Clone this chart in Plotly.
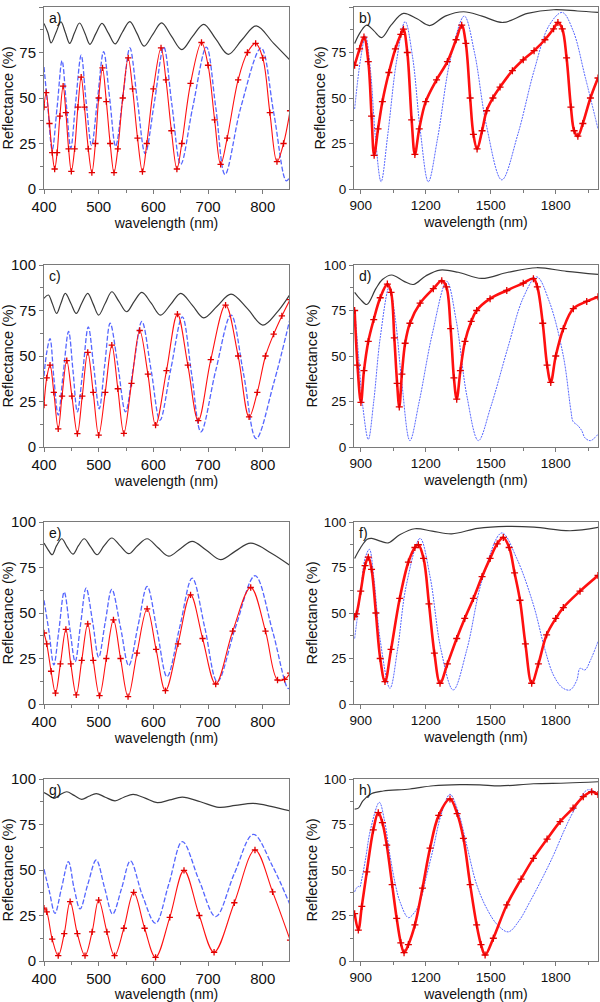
import plotly.graph_objects as go

# ---------------- data (wavelength nm, reflectance %) -------------
# panel a
A_BLACK_WL = [400, 407, 413, 422, 431, 439, 447, 456, 465, 475, 484, 495, 506, 518, 530, 543, 557, 570, 583, 599, 615, 633, 652, 672, 692, 714, 737, 762, 788, 820, 850]
A_BLACK_R = [91, 86, 80.3, 86, 91.8, 86, 80, 86, 91.2, 85.5, 79.5, 85.5, 91, 85.5, 79.7, 86, 92, 85.5, 78.5, 85, 91.3, 84, 76.6, 84, 90.5, 82.5, 74, 82, 89.6, 80, 70.7]
A_RED_WL = [400, 404, 410, 415, 419.5, 424, 429, 435, 440, 445, 450, 456, 462, 468, 474, 481, 487.5, 494, 500, 507, 514, 521, 528, 535, 544, 554, 562, 571, 580, 588, 600, 614, 623, 633, 643, 652, 668, 688, 700, 712, 723, 735, 755, 772, 787, 800, 813, 826, 838, 850]
A_RED_R = [45, 53, 36, 20, 11, 20, 40, 56.5, 42, 22, 9.7, 22, 45, 61.5, 45, 22, 9, 25, 50, 66.5, 48, 25, 9, 22, 50, 72, 55, 28, 9.5, 25, 55, 77.5, 60, 32, 11, 25, 58, 80.5, 68, 38, 13.5, 28, 60, 75, 80, 72, 42, 15, 25, 43]
A_BLUE_WL = [400, 407, 415, 424, 433, 441, 449, 458, 468, 477, 487, 498, 509, 520, 531, 544, 557, 571, 585, 602, 619, 634, 650, 672, 697, 714, 731, 760, 797, 820, 843, 850]
A_BLUE_R = [67, 45, 21.5, 45, 70.5, 46, 22.5, 48, 73.5, 48, 24, 50, 75.5, 50, 23.5, 50, 77.5, 48, 19.5, 48, 78, 46, 13.5, 45, 78, 45, 8, 45, 77.5, 42, 4.5, 7]

# panel b
B_BLACK_WL = [872, 900, 928, 960, 997, 1040, 1097, 1160, 1218, 1290, 1375, 1460, 1557, 1670, 1790, 1900, 1995]
B_BLACK_R = [80, 86.5, 90, 87, 83.2, 90, 96.5, 93.5, 89.8, 95, 97.4, 95, 91.5, 96.5, 98.5, 97.8, 97]
B_RED_WL = [872, 895, 915, 935, 950, 962, 980, 1000, 1030, 1060, 1085, 1097, 1115, 1135, 1150, 1170, 1200, 1250, 1300, 1340, 1366, 1385, 1405, 1420, 1437, 1460, 1481, 1510, 1543, 1600, 1650, 1700, 1750, 1790, 1810, 1830, 1850, 1870, 1885, 1902, 1925, 1960, 1995]
B_RED_R = [68, 77, 83.5, 70, 40, 18.5, 33, 48, 64, 77, 85, 87.8, 75, 38, 19, 33, 48, 60, 70, 82, 90, 80, 50, 30, 22, 32, 43, 50, 56, 65, 71, 76, 82, 88, 91.5, 88, 72, 45, 32, 29, 36, 50, 61]
B_BLUE_WL = [872, 900, 922, 945, 968, 994, 1025, 1065, 1105, 1140, 1175, 1212, 1255, 1315, 1378, 1425, 1480, 1551, 1625, 1700, 1770, 1830, 1880, 1935, 1995]
B_BLUE_R = [44, 72, 84, 65, 28, 4, 30, 70, 92, 72, 32, 4, 28, 72, 95, 75, 35, 5, 30, 65, 90, 97, 87, 62, 33]

# panel c
C_BLACK_WL = [400, 408, 415, 423, 431, 439, 449, 459, 469, 480, 490, 500, 512, 524, 537, 551, 565, 579, 596, 613, 632, 650, 671, 692, 717, 742, 772, 800, 826, 850]
C_BLACK_R = [81.7, 83.5, 79, 73.4, 79, 84.4, 79, 73.4, 79, 84.4, 78.5, 72.5, 79, 85.3, 80, 74.3, 80, 85, 79, 72.5, 78.5, 84.4, 78, 71, 77.5, 84, 76, 67, 74, 84]
C_RED_WL = [400, 405, 411, 418, 426, 433, 441.6, 451, 461, 470, 480, 490, 500, 512, 524, 535, 546, 560, 575, 590, 604, 624, 644, 663, 682, 705, 732, 755, 775, 790, 805, 820, 835, 850]
C_RED_R = [23, 38, 45, 30, 10, 28, 47.5, 28, 7.3, 28, 52, 30, 6.5, 30, 56, 32, 7.5, 35, 64, 40, 12, 42, 73, 45, 14.5, 48, 78, 50, 16.5, 30, 50, 62, 72, 81]
C_BLUE_WL = [400, 405, 411, 418, 426, 435, 445, 453, 461, 471, 481, 491, 501, 511, 521, 535, 549, 564, 579, 596, 612, 632, 653, 670, 687, 714, 742, 765, 788, 820, 850]
C_BLUE_R = [39, 52, 59.5, 38, 17.5, 40, 63.5, 42, 19.3, 42, 66, 44, 21, 45, 68, 45, 19.3, 45, 69, 42, 14.7, 43, 71.5, 40, 8.3, 42, 72.5, 40, 4.6, 35, 70.6]

# panel d
D_BLACK_WL = [872, 900, 928, 970, 1000, 1043, 1100, 1143, 1200, 1266, 1350, 1458, 1580, 1712, 1850, 1995]
D_BLACK_R = [85, 81, 78.3, 87, 92, 94.5, 91, 89.3, 94, 97.2, 96, 92.6, 96, 98.5, 96.5, 94.8]
D_RED_WL = [872, 885, 901, 915, 935, 960, 990, 1023, 1040, 1055, 1068, 1078, 1090, 1105, 1127, 1174, 1235, 1274, 1295, 1315, 1330, 1343, 1360, 1381, 1410, 1435, 1497, 1574, 1650, 1697, 1715, 1740, 1760, 1777, 1800, 1835, 1881, 1943, 1995]
D_RED_R = [75, 45, 24.5, 42, 58, 70, 82, 89.5, 85, 60, 35, 22, 40, 57, 68, 79, 87, 91.3, 88, 65, 38, 26.3, 42, 58, 69, 75, 81.5, 86, 90, 92.5, 88, 68, 45, 35.5, 50, 65, 76, 80, 82.5]
D_BLUE_WL = [872, 890, 910, 935, 960, 990, 1032, 1060, 1090, 1127, 1170, 1230, 1297, 1340, 1390, 1443, 1500, 1580, 1650, 1712, 1770, 1835, 1870, 1880, 1900, 1920, 1935, 1960, 1995]
D_BLUE_R = [76, 50, 22, 4.2, 25, 60, 88, 70, 35, 3.5, 25, 62, 91, 70, 28, 3.5, 22, 55, 82, 93.5, 80, 50, 20, 14, 12, 9, 5, 3.5, 7]

# panel e
E_BLACK_WL = [400, 407, 415, 423, 432.5, 442, 453, 463, 473.5, 485, 497, 510, 524, 539, 555, 571, 588.6, 608, 628, 650, 671, 697, 723, 750, 778, 815, 850]
E_BLACK_R = [88.4, 85, 82, 87, 90.8, 86.5, 82.4, 87, 90.8, 86.5, 82, 87, 91.2, 87, 82.6, 87, 90.8, 86, 81.2, 85.5, 89.4, 84.5, 79.3, 84, 88.4, 83, 76.1]
E_RED_WL = [400, 405, 413, 421, 430, 440, 449, 459, 469, 480, 490, 501.5, 514, 527, 540, 553.7, 570, 588.6, 605, 622, 645, 668, 690, 714, 745, 778, 805, 827, 840, 850]
E_RED_R = [39, 33, 18, 6, 22, 41, 22, 5, 24, 44, 24, 4.6, 25, 46.2, 25, 4, 28, 52.3, 30, 7.3, 33, 60, 36, 11, 40, 64, 40, 13.2, 13.5, 17]
E_BLUE_WL = [400, 409, 418, 427, 437, 447, 457, 467, 477, 489, 500, 512, 524, 540, 555, 572, 588.6, 607, 625, 648, 671, 694, 717, 750, 786, 818, 846, 850]
E_BLUE_R = [57, 40, 21.5, 40, 61.5, 42, 23.3, 44, 63.7, 45, 25.7, 45, 63, 42, 21.1, 43, 64.6, 40, 15, 42, 69.2, 42, 12.3, 42, 70.5, 40, 8.6, 8.6]

# panel f
F_BLACK_WL = [872, 900, 930, 951, 990, 1027, 1080, 1150, 1230, 1320, 1440, 1574, 1700, 1866, 1995]
F_BLACK_R = [80, 86, 90.5, 91, 89.5, 88.5, 93, 96.3, 95, 93.5, 96.5, 97.6, 97.2, 95.2, 97]
F_RED_WL = [872, 880, 900, 920, 935, 950, 970, 990, 1012, 1040, 1080, 1120, 1150, 1166, 1190, 1215, 1240, 1266, 1300, 1343, 1380, 1420, 1460, 1497, 1530, 1558, 1585, 1610, 1635, 1660, 1689, 1720, 1758, 1800, 1835, 1912, 1995]
F_RED_R = [48, 49.5, 62, 76, 80.7, 74, 50, 25, 12.3, 30, 58, 78, 86, 87.5, 80, 55, 28, 11.4, 22, 36, 47, 58, 70, 80, 88, 91.5, 86, 72, 57, 33, 11.4, 22, 38, 47, 53, 62, 70.6]
F_BLUE_WL = [872, 900, 920, 940, 960, 990, 1035, 1070, 1110, 1174, 1220, 1270, 1327, 1390, 1460, 1551, 1620, 1697, 1750, 1789, 1830, 1866, 1897, 1912, 1935, 1960, 1995]
F_BLUE_R = [36, 62, 80, 85, 70, 35, 8.6, 30, 65, 91, 70, 30, 7.7, 30, 68, 94, 80, 54.5, 30, 16, 9, 7.7, 13, 19.6, 18.7, 24, 34.3]

# panel g
G_BLACK_WL = [400, 409, 418, 430, 441.6, 455, 469, 482, 495.5, 512, 530, 546, 563, 585, 607, 630, 653, 686, 720, 750, 782.7, 815, 850]
G_BLACK_R = [92.5, 91, 89.4, 91.5, 93, 91, 88.8, 90.5, 92, 90, 88, 90, 91.6, 89.5, 87, 88.5, 90, 87.5, 84.4, 85.5, 86.6, 85, 82.4]
G_RED_WL = [400, 405, 415, 426, 437, 447.8, 461, 475, 488, 500, 515, 529, 546, 564, 584, 604, 630, 656, 684, 711, 748, 785.8, 818, 850]
G_RED_R = [29, 27, 12, 2.9, 15, 32.6, 15, 2.9, 16, 33.5, 16, 2.9, 18, 37.7, 18, 2, 24, 49.8, 25, 4.8, 32, 61, 38, 11.5]
G_BLUE_WL = [400, 410, 420, 432, 444.7, 455, 466, 480, 495.5, 511, 525.5, 542, 558, 580, 604, 628, 653, 684, 714, 748, 782.7, 818, 850]
G_BLUE_R = [50.4, 38, 26.2, 40, 54.6, 40, 28.6, 42, 55.5, 40, 25.8, 40, 55, 36, 20.7, 42, 65.6, 44, 24.4, 48, 69.6, 52, 30.8]

# panel h
H_BLACK_WL = [872, 889, 910, 951, 1004, 1127, 1235, 1358, 1450, 1543, 1697, 1851, 1995]
H_BLACK_R = [83.5, 84, 88, 92, 93.4, 94.5, 96.3, 96.9, 96.8, 96.2, 97.4, 97.8, 98.5]
H_RED_WL = [872, 889, 905, 928, 958, 981, 1000, 1020, 1045, 1066, 1085, 1100, 1120, 1150, 1185, 1220, 1260, 1312, 1345, 1374, 1405, 1435, 1455, 1474, 1512, 1574, 1640, 1697, 1760, 1820, 1880, 1927, 1966, 1995]
H_RED_R = [26, 17, 30, 49, 72, 81.5, 76, 63.7, 42, 23.4, 10, 4.6, 9, 19.8, 40, 62, 80, 89, 81, 67.4, 42, 19.8, 9, 3.3, 12.5, 30.8, 45, 56.4, 67, 76.6, 84, 90.3, 93, 91.5]
H_BLUE_WL = [872, 880, 889, 895, 905, 925, 943, 986, 1010, 1035, 1060, 1081, 1120, 1150, 1174, 1200, 1235, 1270, 1312, 1350, 1389, 1435, 1481, 1530, 1581, 1630, 1681, 1740, 1789, 1840, 1881, 1946, 1995]
H_BLUE_R = [38, 40, 41, 40.5, 45, 58, 71, 87.2, 77, 58, 42, 32.6, 23.8, 27, 32.6, 45, 62, 80, 91.6, 82, 63.7, 42, 29, 20, 16, 22, 32.6, 46, 58, 72, 82, 94, 92]

PANEL_LABELS = ["a)", "b)", "c)", "d)", "e)", "f)", "g)", "h)"]
LEFT_TICKS = [400, 500, 600, 700, 800]
RIGHT_TICKS = [900, 1200, 1500, 1800]
Y_TICKS = [0, 25, 50, 75, 100]

panels = [
    (A_BLACK_WL, A_BLACK_R, A_RED_WL, A_RED_R, A_BLUE_WL, A_BLUE_R),
    (B_BLACK_WL, B_BLACK_R, B_RED_WL, B_RED_R, B_BLUE_WL, B_BLUE_R),
    (C_BLACK_WL, C_BLACK_R, C_RED_WL, C_RED_R, C_BLUE_WL, C_BLUE_R),
    (D_BLACK_WL, D_BLACK_R, D_RED_WL, D_RED_R, D_BLUE_WL, D_BLUE_R),
    (E_BLACK_WL, E_BLACK_R, E_RED_WL, E_RED_R, E_BLUE_WL, E_BLUE_R),
    (F_BLACK_WL, F_BLACK_R, F_RED_WL, F_RED_R, F_BLUE_WL, F_BLUE_R),
    (G_BLACK_WL, G_BLACK_R, G_RED_WL, G_RED_R, G_BLUE_WL, G_BLUE_R),
    (H_BLACK_WL, H_BLACK_R, H_RED_WL, H_RED_R, H_BLUE_WL, H_BLUE_R),
]

# ---------------- layout geometry (pixels) ----------------
W, H = 600, 1002
ROWS_PX = [(7, 189), (265, 447), (522, 704), (779, 961)]
COLS_PX = [(44, 289), (354, 598)]
FONT = "Arial, Liberation Sans, sans-serif"
FRAME = "#7a7a7a"

fig = go.Figure()
layout = dict(width=W, height=H, margin=dict(l=0, r=0, t=0, b=0, autoexpand=False),
              paper_bgcolor="white", plot_bgcolor="white", showlegend=False,
              font=dict(family=FONT, color="#111"), annotations=[])

for i, (bwl, br, rwl, rr, uwl, ur) in enumerate(panels):
    row, col = divmod(i, 2)
    sfx = "" if i == 0 else str(i + 1)
    xa, ya = "x" + sfx, "y" + sfx
    right = col == 1
    fig.add_trace(go.Scatter(x=bwl, y=br, xaxis=xa, yaxis=ya, mode="lines",
                             line=dict(color="#3a3a3a", width=1.2, shape="spline", smoothing=1.0)))
    fig.add_trace(go.Scatter(x=uwl, y=ur, xaxis=xa, yaxis=ya, mode="lines",
                             line=dict(color="#5566ff", width=1.0 if right else 1.3,
                                       dash="2px,1px" if right else "5px,2px", shape="spline",
                                       smoothing=1.0)))
    fig.add_trace(go.Scatter(x=rwl, y=rr, xaxis=xa, yaxis=ya, mode="lines+markers",
                             line=dict(color="#ff1010", width=2.6 if right else 1.1, shape="spline",
                                       smoothing=1.0),
                             marker=dict(symbol="cross-thin", size=5 if right else 4.5,
                                         line=dict(color="#e00000", width=1.3))))
    t, b = ROWS_PX[row]
    l, r = COLS_PX[col]
    xdom = [l / W, r / W]
    ydom = [1 - b / H, 1 - t / H]
    tick_font = dict(family=FONT, size=13.5 if right else 15, color="#111")
    layout["xaxis" + sfx] = dict(
        domain=xdom, anchor=ya, automargin=False,
        range=[869, 1995] if right else [400, 848],
        tickvals=RIGHT_TICKS if right else LEFT_TICKS,
        minor=dict(dtick=150 if right else 50, tick0=900 if right else 400,
                   ticks="outside", ticklen=3, tickcolor=FRAME),
        ticks="outside", ticklen=4, tickcolor=FRAME, tickfont=tick_font,
        showline=True, mirror=True, linecolor=FRAME, linewidth=1,
        showgrid=False, zeroline=False,
        title=dict(text="wavelength (nm)", font=dict(family=FONT, size=14, color="#111"), standoff=4),
    )
    layout["yaxis" + sfx] = dict(
        domain=ydom, anchor=xa, automargin=False, range=[0, 100], tickvals=Y_TICKS,
        minor=dict(dtick=12.5, ticks="outside", ticklen=3, tickcolor=FRAME),
        ticks="outside", ticklen=4, tickcolor=FRAME, tickfont=tick_font,
        showline=True, mirror=True, linecolor=FRAME, linewidth=1,
        showgrid=False, zeroline=False,
        title=dict(text="Reflectance (%)", font=dict(family=FONT, size=14.5, color="#111"), standoff=2),
    )
    layout["annotations"].append(dict(
        text=PANEL_LABELS[i], xref="paper", yref="paper",
        x=(l + 3) / W, y=1 - (t + 1) / H, xanchor="left", yanchor="top",
        showarrow=False, font=dict(family=FONT, size=14, color="#111")))

fig.update_layout(**layout)
fig.write_html("out.html", config={"displayModeBar": False},
               post_script="document.body.style.margin='0';document.body.style.padding='0';")
